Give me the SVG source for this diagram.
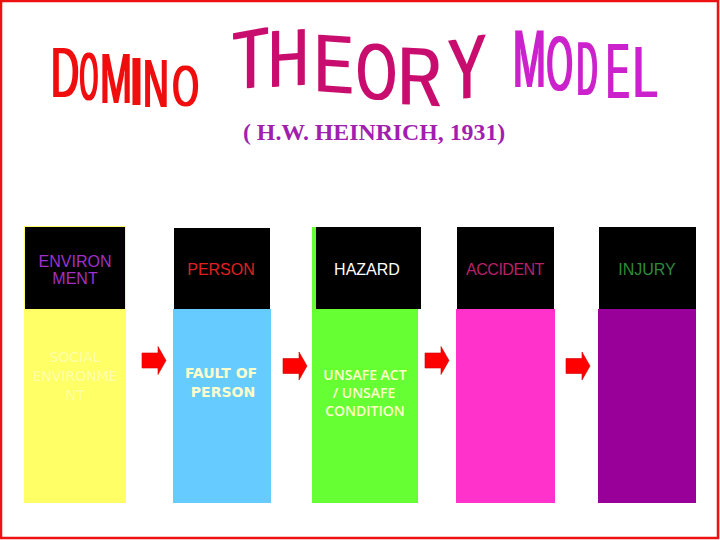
<svg xmlns="http://www.w3.org/2000/svg" width="720" height="540" viewBox="0 0 720 540">
  <defs>
    <filter id="thick" x="-10%" y="-5%" width="120%" height="110%">
      <feMorphology operator="dilate" radius="1 0"/>
    </filter>
    <filter id="thickI" x="-100%" y="-5%" width="300%" height="110%">
      <feMorphology operator="dilate" radius="2.5 0"/>
    </filter>
    <path id="arrow" d="M0,-7.5 H16 V-14 L24,0 L16,14 V7.5 H0 Z"/>
  </defs>
  <style>
    .wa { font-family: "Liberation Sans", Arial, sans-serif; }
    .domino { fill: #f01010; }
    .theory { fill: #c8116e; }
    .model { fill: #cc22cc; }
    .sub { font-family: "Liberation Serif", "Times New Roman", serif; font-size: 23.8px; font-weight: bold; fill: #a01fae; }
    .head { fill: #000000; }
    .htxt { font-family: "Liberation Sans", Arial, sans-serif; font-size: 16px; text-anchor: middle; }
    .ltxt { font-family: "Open Sans", "DejaVu Sans", sans-serif; font-weight: 600; text-anchor: middle; fill: #ffffcc; }
    .ltxt2 { font-family: "DejaVu Sans", sans-serif; font-weight: bold; text-anchor: middle; fill: #ffffcc; }
    .stxt { font-family: "DejaVu Sans", sans-serif; font-size: 14px; text-anchor: middle; fill: #ffffaa; }
    .arr { fill: #ff0000; stroke: #cc0000; stroke-width: 0.6; }
  </style>

  <rect x="0" y="0" width="720" height="540" fill="#ffffff"/>
  <rect x="1" y="1" width="717" height="537" fill="none" stroke="#ee1111" stroke-width="2.5"/>

  <g id="title">
    <g class="wa domino" filter="url(#thick)">
      <text transform="translate(51,97) scale(0.546,1)" font-size="71.2">D</text>
      <text transform="translate(79.87,100) scale(0.341,1)" font-size="68.9">O</text>
      <text transform="translate(100.19,103) scale(0.533,1)" font-size="71.2">M</text>
      <text transform="translate(143.33,107) scale(0.513,1)" font-size="68.4">N</text>
      <text transform="translate(172.38,106) scale(0.595,1)" font-size="56.8">O</text>
    </g>
    <g class="wa domino" filter="url(#thickI)">
      <text transform="translate(133.54,105) scale(0.308,1)" font-size="68.4">I</text>
    </g>
    <g class="wa theory" filter="url(#thick)">
      <text transform="translate(232.66,91.1) skewY(-10) scale(0.697,1)" font-size="83.8">T</text>
      <text transform="translate(268.59,87.2) skewY(-4) scale(0.681,1)" font-size="81">H</text>
      <text transform="translate(314.44,90.9) skewY(4) scale(0.7,1)" font-size="82.4">E</text>
      <text transform="translate(356.53,97.4) skewY(5) scale(0.645,1)" font-size="79.7">O</text>
      <text transform="translate(398.2,104) skewY(3) scale(0.735,1)" font-size="82.4">R</text>
      <text transform="translate(447.83,101.5) skewY(-10) scale(0.653,1)" font-size="88">Y</text>
    </g>
    <g class="wa model" filter="url(#thick)">
      <text transform="translate(513.08,87) scale(0.487,1)" font-size="81">M</text>
      <text transform="translate(546.38,90) scale(0.431,1)" font-size="78.4">O</text>
      <text transform="translate(576.79,95) scale(0.374,1)" font-size="76.8">D</text>
      <text transform="translate(606.26,98) scale(0.443,1)" font-size="78.2">E</text>
      <text transform="translate(632.74,97) scale(0.616,1)" font-size="72.6">L</text>
    </g>
    <text class="sub" x="243" y="140">( H.W. HEINRICH, 1931)</text>
  </g>

  <g id="node-environment">
    <rect x="24" y="226" width="102" height="277" fill="#ffff66"/>
    <rect class="head" x="25" y="227" width="100" height="82"/>
    <text class="htxt" fill="#a030c8" x="75" y="267">ENVIRON</text>
    <text class="htxt" fill="#a030c8" x="75" y="284">MENT</text>
    <text class="stxt" x="75" y="362">SOCIAL</text>
    <text class="stxt" x="75" y="381">ENVIRONME</text>
    <text class="stxt" x="75" y="400">NT</text>
  </g>

  <g id="node-person">
    <rect x="173" y="309" width="98" height="194" fill="#66ccff"/>
    <rect class="head" x="174" y="228" width="96" height="81"/>
    <text class="htxt" fill="#e02020" x="221" y="275">PERSON</text>
    <text class="ltxt2" font-size="14" x="221" y="378">FAULT OF</text>
    <text class="ltxt2" font-size="14" x="223" y="397">PERSON</text>
  </g>

  <g id="node-hazard">
    <rect x="312" y="227" width="106" height="276" fill="#66ff33"/>
    <rect class="head" x="316" y="227" width="105" height="82"/>
    <text class="htxt" fill="#ffffff" x="367" y="275">HAZARD</text>
    <text class="ltxt" font-size="14" x="365" y="380">UNSAFE ACT</text>
    <text class="ltxt" font-size="14" x="364" y="398">/ UNSAFE</text>
    <text class="ltxt" font-size="14" x="365" y="416">CONDITION</text>
  </g>

  <g id="node-accident">
    <rect x="456" y="309" width="99" height="194" fill="#ff33cc"/>
    <rect class="head" x="457" y="227" width="97" height="82"/>
    <text class="htxt" fill="#b8206a" x="505" y="275" letter-spacing="-0.5">ACCIDENT</text>
  </g>

  <g id="node-injury">
    <rect x="598" y="309" width="98" height="194" fill="#990099"/>
    <rect class="head" x="599" y="227" width="97" height="82"/>
    <text class="htxt" fill="#2e8b3a" x="647" y="275">INJURY</text>
  </g>

  <g id="connectors">
    <use href="#arrow" class="arr" x="142" y="360.5"/>
    <use href="#arrow" class="arr" x="283" y="366"/>
    <use href="#arrow" class="arr" x="425" y="360.5"/>
    <use href="#arrow" class="arr" x="566" y="366"/>
  </g>
</svg>
